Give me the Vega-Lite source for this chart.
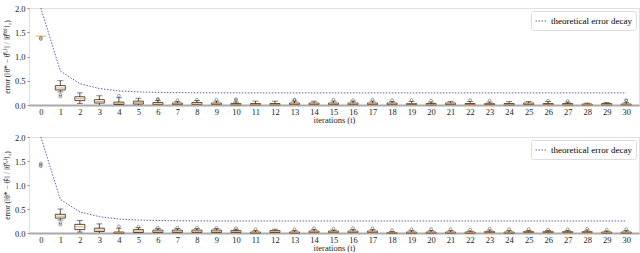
{
  "$schema": "https://vega.github.io/schema/vega-lite/v6.json",
  "padding": {"left": 2, "top": 3, "right": 2, "bottom": 0},
  "background": "white",
  "config": {
    "font": "Liberation Serif",
    "view": {"stroke": "#e0e0e0", "strokeWidth": 1},
    "axis": {"labelFont": "Liberation Serif", "titleFont": "Liberation Serif", "labelFontSize": 8.5, "titleFontSize": 8.5, "titleFontWeight": "normal", "grid": false, "labelColor": "#222", "titleColor": "#222", "labelOverlap": false},
    "axisX": {"domainColor": "#aaaaaa", "domainWidth": 2, "ticks": false, "labelPadding": 2, "titlePadding": 0},
    "axisY": {"domain": false, "tickSize": 2, "tickColor": "#888", "labelPadding": 2, "titlePadding": 3, "titleFontSize": 7.5},
    "legend": {"orient": "top-right", "offset": 3, "strokeColor": "#dddddd", "padding": 4, "cornerRadius": 2, "labelFont": "Liberation Serif", "labelFontSize": 9, "symbolType": "stroke", "symbolSize": 120, "symbolStrokeWidth": 1, "symbolDash": [1.5, 1.5], "title": null}
  },
  "datasets": {
    "decay": [
      {"t": 0, "y": 2.0, "s": "theoretical error decay"},
      {"t": 1, "y": 0.70, "s": "theoretical error decay"},
      {"t": 2, "y": 0.44, "s": "theoretical error decay"},
      {"t": 3, "y": 0.34, "s": "theoretical error decay"},
      {"t": 4, "y": 0.29, "s": "theoretical error decay"},
      {"t": 5, "y": 0.27, "s": "theoretical error decay"},
      {"t": 6, "y": 0.26, "s": "theoretical error decay"},
      {"t": 7, "y": 0.255, "s": "theoretical error decay"},
      {"t": 8, "y": 0.252, "s": "theoretical error decay"},
      {"t": 10, "y": 0.25, "s": "theoretical error decay"},
      {"t": 15, "y": 0.25, "s": "theoretical error decay"},
      {"t": 20, "y": 0.25, "s": "theoretical error decay"},
      {"t": 25, "y": 0.25, "s": "theoretical error decay"},
      {"t": 30, "y": 0.25, "s": "theoretical error decay"}
    ],
    "whisk1": [
      {"t": 1, "y": 0.27, "y2": 0.50}, {"t": 2, "y": 0.03, "y2": 0.25}, {"t": 3, "y": 0, "y2": 0.19},
      {"t": 4, "y": 0, "y2": 0.15}, {"t": 5, "y": 0, "y2": 0.14}, {"t": 6, "y": 0, "y2": 0.09},
      {"t": 7, "y": 0, "y2": 0.07}, {"t": 8, "y": 0, "y2": 0.09}, {"t": 9, "y": 0, "y2": 0.08},
      {"t": 10, "y": 0, "y2": 0.06}, {"t": 11, "y": 0, "y2": 0.08}, {"t": 12, "y": 0, "y2": 0.08},
      {"t": 13, "y": 0, "y2": 0.08}, {"t": 14, "y": 0, "y2": 0.08}, {"t": 15, "y": 0, "y2": 0.08},
      {"t": 16, "y": 0, "y2": 0.08}, {"t": 17, "y": 0, "y2": 0.08}, {"t": 18, "y": 0, "y2": 0.07},
      {"t": 19, "y": 0, "y2": 0.07}, {"t": 20, "y": 0, "y2": 0.06}, {"t": 21, "y": 0, "y2": 0.07},
      {"t": 22, "y": 0, "y2": 0.07}, {"t": 23, "y": 0, "y2": 0.06}, {"t": 24, "y": 0, "y2": 0.07},
      {"t": 25, "y": 0, "y2": 0.07}, {"t": 26, "y": 0, "y2": 0.07}, {"t": 27, "y": 0, "y2": 0.06},
      {"t": 28, "y": 0, "y2": 0.04}, {"t": 29, "y": 0, "y2": 0.05}, {"t": 30, "y": 0, "y2": 0.05}
    ],
    "boxes1": [
      {"t": 1, "y": 0.31, "y2": 0.40}, {"t": 2, "y": 0.09, "y2": 0.17}, {"t": 3, "y": 0.04, "y2": 0.11},
      {"t": 4, "y": 0.01, "y2": 0.06}, {"t": 5, "y": 0.02, "y2": 0.08}, {"t": 6, "y": 0.01, "y2": 0.05},
      {"t": 7, "y": 0.01, "y2": 0.04}, {"t": 8, "y": 0.01, "y2": 0.05}, {"t": 9, "y": 0.01, "y2": 0.04},
      {"t": 10, "y": 0.005, "y2": 0.03}, {"t": 11, "y": 0.005, "y2": 0.03}, {"t": 12, "y": 0.005, "y2": 0.03},
      {"t": 13, "y": 0.01, "y2": 0.04}, {"t": 14, "y": 0.01, "y2": 0.04}, {"t": 15, "y": 0.01, "y2": 0.04},
      {"t": 16, "y": 0.01, "y2": 0.04}, {"t": 17, "y": 0.01, "y2": 0.04}, {"t": 18, "y": 0.01, "y2": 0.04},
      {"t": 19, "y": 0.01, "y2": 0.03}, {"t": 20, "y": 0.005, "y2": 0.03}, {"t": 21, "y": 0.01, "y2": 0.04},
      {"t": 22, "y": 0.01, "y2": 0.03}, {"t": 23, "y": 0.01, "y2": 0.03}, {"t": 24, "y": 0.005, "y2": 0.03},
      {"t": 25, "y": 0.01, "y2": 0.04}, {"t": 26, "y": 0.01, "y2": 0.03}, {"t": 27, "y": 0.005, "y2": 0.03},
      {"t": 28, "y": 0.005, "y2": 0.02}, {"t": 29, "y": 0.005, "y2": 0.03}, {"t": 30, "y": 0.005, "y2": 0.02}
    ],
    "caps1": [
      {"t": 1, "y": 0.50}, {"t": 1, "y": 0.27}, {"t": 2, "y": 0.25}, {"t": 2, "y": 0.03}, {"t": 3, "y": 0.19},
      {"t": 4, "y": 0.15}, {"t": 5, "y": 0.14}, {"t": 6, "y": 0.09}, {"t": 7, "y": 0.07}, {"t": 8, "y": 0.09},
      {"t": 9, "y": 0.08}, {"t": 10, "y": 0.06}, {"t": 11, "y": 0.08}, {"t": 12, "y": 0.08}, {"t": 13, "y": 0.08},
      {"t": 14, "y": 0.08}, {"t": 15, "y": 0.08}, {"t": 16, "y": 0.08}, {"t": 17, "y": 0.08}, {"t": 18, "y": 0.07},
      {"t": 19, "y": 0.07}, {"t": 20, "y": 0.06}, {"t": 21, "y": 0.07}, {"t": 22, "y": 0.07}, {"t": 23, "y": 0.06},
      {"t": 24, "y": 0.07}, {"t": 25, "y": 0.07}, {"t": 26, "y": 0.07}, {"t": 27, "y": 0.06}, {"t": 28, "y": 0.04},
      {"t": 29, "y": 0.05}, {"t": 30, "y": 0.05}
    ],
    "med1": [
      {"t": 0, "y": 1.42}, {"t": 1, "y": 0.35}, {"t": 2, "y": 0.13}, {"t": 3, "y": 0.07}, {"t": 4, "y": 0.03},
      {"t": 5, "y": 0.05}, {"t": 6, "y": 0.02}, {"t": 7, "y": 0.02}, {"t": 8, "y": 0.02}, {"t": 9, "y": 0.02},
      {"t": 10, "y": 0.01}, {"t": 11, "y": 0.01}, {"t": 12, "y": 0.01}, {"t": 13, "y": 0.02}, {"t": 14, "y": 0.02},
      {"t": 15, "y": 0.02}, {"t": 16, "y": 0.02}, {"t": 17, "y": 0.02}, {"t": 18, "y": 0.02}, {"t": 19, "y": 0.02},
      {"t": 20, "y": 0.01}, {"t": 21, "y": 0.02}, {"t": 22, "y": 0.01}, {"t": 23, "y": 0.02}, {"t": 24, "y": 0.01},
      {"t": 25, "y": 0.02}, {"t": 26, "y": 0.01}, {"t": 27, "y": 0.01}, {"t": 28, "y": 0.01}, {"t": 29, "y": 0.01},
      {"t": 30, "y": 0.01}
    ],
    "out1": [
      {"t": 0, "y": 1.385}, {"t": 0, "y": 1.36},
      {"t": 1, "y": 0.21}, {"t": 1, "y": 0.175},
      {"t": 4, "y": 0.19},
      {"t": 6, "y": 0.11}, {"t": 6, "y": 0.125},
      {"t": 7, "y": 0.10}, {"t": 8, "y": 0.11}, {"t": 9, "y": 0.11},
      {"t": 10, "y": 0.10}, {"t": 10, "y": 0.12},
      {"t": 13, "y": 0.10}, {"t": 13, "y": 0.11}, {"t": 15, "y": 0.11}, {"t": 16, "y": 0.10},
      {"t": 17, "y": 0.11}, {"t": 18, "y": 0.10}, {"t": 19, "y": 0.10}, {"t": 20, "y": 0.09},
      {"t": 22, "y": 0.10}, {"t": 23, "y": 0.09}, {"t": 26, "y": 0.09}, {"t": 27, "y": 0.08},
      {"t": 30, "y": 0.09}, {"t": 30, "y": 0.10}
    ],
    "whisk2": [
      {"t": 1, "y": 0.27, "y2": 0.50}, {"t": 2, "y": 0.02, "y2": 0.26}, {"t": 3, "y": 0, "y2": 0.19},
      {"t": 4, "y": 0, "y2": 0.10}, {"t": 5, "y": 0, "y2": 0.11}, {"t": 6, "y": 0, "y2": 0.09},
      {"t": 7, "y": 0, "y2": 0.09}, {"t": 8, "y": 0, "y2": 0.09}, {"t": 9, "y": 0, "y2": 0.09},
      {"t": 10, "y": 0, "y2": 0.08}, {"t": 11, "y": 0, "y2": 0.05}, {"t": 12, "y": 0, "y2": 0.08},
      {"t": 13, "y": 0, "y2": 0.05}, {"t": 14, "y": 0, "y2": 0.07}, {"t": 15, "y": 0, "y2": 0.06},
      {"t": 16, "y": 0, "y2": 0.07}, {"t": 17, "y": 0, "y2": 0.07}, {"t": 18, "y": 0, "y2": 0.03},
      {"t": 19, "y": 0, "y2": 0.05}, {"t": 20, "y": 0, "y2": 0.05}, {"t": 21, "y": 0, "y2": 0.05},
      {"t": 22, "y": 0, "y2": 0.04}, {"t": 23, "y": 0, "y2": 0.06}, {"t": 24, "y": 0, "y2": 0.05},
      {"t": 25, "y": 0, "y2": 0.05}, {"t": 26, "y": 0, "y2": 0.05}, {"t": 27, "y": 0, "y2": 0.05},
      {"t": 28, "y": 0, "y2": 0.06}, {"t": 29, "y": 0, "y2": 0.04}, {"t": 30, "y": 0, "y2": 0.05}
    ],
    "boxes2": [
      {"t": 1, "y": 0.31, "y2": 0.39}, {"t": 2, "y": 0.07, "y2": 0.18}, {"t": 3, "y": 0.03, "y2": 0.10},
      {"t": 4, "y": 0.0, "y2": 0.02}, {"t": 5, "y": 0.01, "y2": 0.07}, {"t": 6, "y": 0.01, "y2": 0.06},
      {"t": 7, "y": 0.01, "y2": 0.06}, {"t": 8, "y": 0.01, "y2": 0.06}, {"t": 9, "y": 0.01, "y2": 0.06},
      {"t": 10, "y": 0.01, "y2": 0.05}, {"t": 11, "y": 0.0, "y2": 0.02}, {"t": 12, "y": 0.01, "y2": 0.05},
      {"t": 13, "y": 0.0, "y2": 0.02}, {"t": 14, "y": 0.01, "y2": 0.04}, {"t": 15, "y": 0.01, "y2": 0.04},
      {"t": 16, "y": 0.01, "y2": 0.04}, {"t": 17, "y": 0.01, "y2": 0.04}, {"t": 18, "y": 0.0, "y2": 0.01},
      {"t": 19, "y": 0.0, "y2": 0.02}, {"t": 20, "y": 0.0, "y2": 0.02}, {"t": 21, "y": 0.0, "y2": 0.02},
      {"t": 22, "y": 0.0, "y2": 0.02}, {"t": 23, "y": 0.01, "y2": 0.03}, {"t": 24, "y": 0.0, "y2": 0.02},
      {"t": 25, "y": 0.01, "y2": 0.03}, {"t": 26, "y": 0.01, "y2": 0.03}, {"t": 27, "y": 0.01, "y2": 0.03},
      {"t": 28, "y": 0.01, "y2": 0.03}, {"t": 29, "y": 0.0, "y2": 0.02}, {"t": 30, "y": 0.0, "y2": 0.02}
    ],
    "caps2": [
      {"t": 1, "y": 0.50}, {"t": 1, "y": 0.27}, {"t": 2, "y": 0.26}, {"t": 2, "y": 0.02}, {"t": 3, "y": 0.19},
      {"t": 4, "y": 0.10}, {"t": 5, "y": 0.11}, {"t": 6, "y": 0.09}, {"t": 7, "y": 0.09}, {"t": 8, "y": 0.09},
      {"t": 9, "y": 0.09}, {"t": 10, "y": 0.08}, {"t": 11, "y": 0.05}, {"t": 12, "y": 0.08}, {"t": 13, "y": 0.05},
      {"t": 14, "y": 0.07}, {"t": 15, "y": 0.06}, {"t": 16, "y": 0.07}, {"t": 17, "y": 0.07}, {"t": 18, "y": 0.03},
      {"t": 19, "y": 0.05}, {"t": 20, "y": 0.05}, {"t": 21, "y": 0.05}, {"t": 22, "y": 0.04}, {"t": 23, "y": 0.06},
      {"t": 24, "y": 0.05}, {"t": 25, "y": 0.05}, {"t": 26, "y": 0.05}, {"t": 27, "y": 0.05}, {"t": 28, "y": 0.06},
      {"t": 29, "y": 0.04}, {"t": 30, "y": 0.05}
    ],
    "med2": [
      {"t": 1, "y": 0.35}, {"t": 2, "y": 0.13}, {"t": 3, "y": 0.06}, {"t": 4, "y": 0.01},
      {"t": 5, "y": 0.04}, {"t": 6, "y": 0.03}, {"t": 7, "y": 0.03}, {"t": 8, "y": 0.03}, {"t": 9, "y": 0.03},
      {"t": 10, "y": 0.03}, {"t": 11, "y": 0.01}, {"t": 12, "y": 0.03}, {"t": 13, "y": 0.01}, {"t": 14, "y": 0.02},
      {"t": 15, "y": 0.02}, {"t": 16, "y": 0.02}, {"t": 17, "y": 0.02}, {"t": 18, "y": 0.01}, {"t": 19, "y": 0.01},
      {"t": 20, "y": 0.01}, {"t": 21, "y": 0.01}, {"t": 22, "y": 0.01}, {"t": 23, "y": 0.02}, {"t": 24, "y": 0.01},
      {"t": 25, "y": 0.02}, {"t": 26, "y": 0.02}, {"t": 27, "y": 0.02}, {"t": 28, "y": 0.02}, {"t": 29, "y": 0.01},
      {"t": 30, "y": 0.01}
    ],
    "out2": [
      {"t": 0, "y": 1.45}, {"t": 0, "y": 1.42}, {"t": 0, "y": 1.39},
      {"t": 1, "y": 0.21}, {"t": 1, "y": 0.175},
      {"t": 4, "y": 0.14},
      {"t": 5, "y": 0.13}, {"t": 6, "y": 0.11}, {"t": 7, "y": 0.11}, {"t": 8, "y": 0.11}, {"t": 9, "y": 0.11},
      {"t": 10, "y": 0.10}, {"t": 11, "y": 0.08}, {"t": 13, "y": 0.08}, {"t": 14, "y": 0.10},
      {"t": 15, "y": 0.09}, {"t": 16, "y": 0.10}, {"t": 17, "y": 0.10}, {"t": 18, "y": 0.06},
      {"t": 19, "y": 0.08}, {"t": 20, "y": 0.08}, {"t": 21, "y": 0.08}, {"t": 22, "y": 0.07},
      {"t": 23, "y": 0.09}, {"t": 24, "y": 0.08}, {"t": 25, "y": 0.08}, {"t": 26, "y": 0.07},
      {"t": 27, "y": 0.08}, {"t": 28, "y": 0.09}, {"t": 29, "y": 0.07}, {"t": 30, "y": 0.08}
    ]
  },
  "spacing": 7,
  "resolve": {"scale": {"color": "independent"}, "legend": {"color": "independent"}},
  "vconcat": [
    {
      "width": 610,
      "height": 97,
      "encoding": {
        "x": {"field": "t", "type": "quantitative", "scale": {"domain": [-0.35, 30.4], "nice": false, "zero": false}, "axis": {"values": [0,1,2,3,4,5,6,7,8,9,10,11,12,13,14,15,16,17,18,19,20,21,22,23,24,25,26,27,28,29,30], "title": "iterations (t)", "format": "d", "labelOverlap": false, "labelBound": false}},
        "y": {"field": "y", "type": "quantitative", "scale": {"domain": [0, 2], "nice": false}, "axis": {"values": [0, 0.5, 1, 1.5, 2], "format": ".1f", "labelOverlap": false, "title": "error (‖θ* − θ̂⁽ᵗ⁾‖ / ‖θ̂⁽⁰⁾‖₂)"}}
      },
      "layer": [
        {"data": {"name": "whisk1"}, "mark": {"type": "rule", "color": "#222", "strokeWidth": 0.8}, "encoding": {"y2": {"field": "y2"}}},
        {"data": {"name": "boxes1"}, "mark": {"type": "bar", "size": 10, "fill": "white", "stroke": "#222", "strokeWidth": 0.8}, "encoding": {"y2": {"field": "y2"}}},
        {"data": {"name": "caps1"}, "mark": {"type": "tick", "orient": "horizontal", "size": 6, "thickness": 0.8, "color": "#222"}, "encoding": {}},
        {"data": {"name": "med1"}, "mark": {"type": "tick", "orient": "horizontal", "size": 10, "thickness": 1.2, "color": "#ff8c1a"}, "encoding": {}},
        {"data": {"name": "out1"}, "mark": {"type": "point", "filled": false, "size": 8, "stroke": "#222", "strokeWidth": 0.6}, "encoding": {}},
        {"data": {"name": "decay"}, "mark": {"type": "line", "strokeWidth": 1, "strokeDash": [1.5, 1.5]},
         "encoding": {"color": {"field": "s", "type": "nominal", "scale": {"range": ["#5a5ac8"]}, "legend": {"orient": "top-right"}}}}
      ]
    },
    {
      "width": 610,
      "height": 96,
      "encoding": {
        "x": {"field": "t", "type": "quantitative", "scale": {"domain": [-0.35, 30.4], "nice": false, "zero": false}, "axis": {"values": [0,1,2,3,4,5,6,7,8,9,10,11,12,13,14,15,16,17,18,19,20,21,22,23,24,25,26,27,28,29,30], "title": "iterations (t)", "format": "d", "labelOverlap": false, "labelBound": false}},
        "y": {"field": "y", "type": "quantitative", "scale": {"domain": [0, 2], "nice": false}, "axis": {"values": [0, 0.5, 1, 1.5, 2], "format": ".1f", "labelOverlap": false, "title": "error (‖θ* − θ̂ᶜ‖ / ‖θ̂⁽ᶜ⁾‖₂)"}}
      },
      "layer": [
        {"data": {"name": "whisk2"}, "mark": {"type": "rule", "color": "#222", "strokeWidth": 0.8}, "encoding": {"y2": {"field": "y2"}}},
        {"data": {"name": "boxes2"}, "mark": {"type": "bar", "size": 10, "fill": "white", "stroke": "#222", "strokeWidth": 0.8}, "encoding": {"y2": {"field": "y2"}}},
        {"data": {"name": "caps2"}, "mark": {"type": "tick", "orient": "horizontal", "size": 6, "thickness": 0.8, "color": "#222"}, "encoding": {}},
        {"data": {"name": "med2"}, "mark": {"type": "tick", "orient": "horizontal", "size": 10, "thickness": 1.2, "color": "#ff8c1a"}, "encoding": {}},
        {"data": {"name": "out2"}, "mark": {"type": "point", "filled": false, "size": 8, "stroke": "#222", "strokeWidth": 0.6}, "encoding": {}},
        {"data": {"name": "decay"}, "mark": {"type": "line", "strokeWidth": 1, "strokeDash": [1.5, 1.5]},
         "encoding": {"color": {"field": "s", "type": "nominal", "scale": {"range": ["#5a5ac8"]}, "legend": {"orient": "top-right"}}}}
      ]
    }
  ]
}
